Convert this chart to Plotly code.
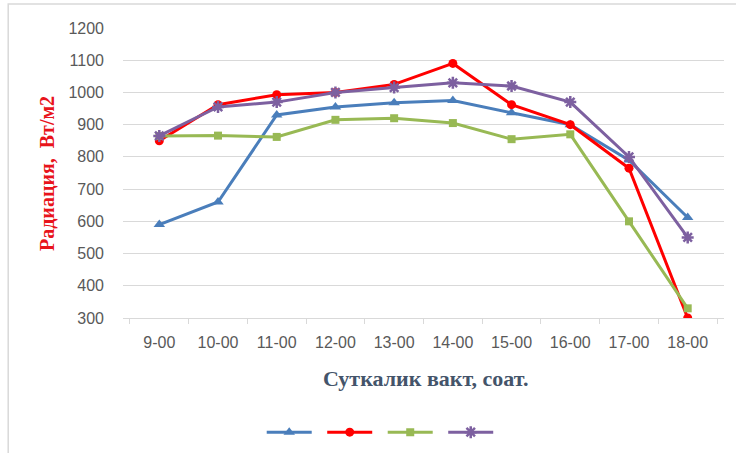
import plotly.graph_objects as go

hours = ["9-00", "10-00", "11-00", "12-00", "13-00", "14-00", "15-00", "16-00", "17-00", "18-00"]
series_1 = [590, 660, 930, 955, 968, 975, 937, 900, 790, 612]
series_2 = [850, 962, 993, 1000, 1025, 1090, 962, 900, 765, 300]
series_3 = [865, 866, 862, 915, 920, 905, 855, 870, 600, 330]
series_4 = [865, 955, 970, 1000, 1015, 1030, 1020, 970, 800, 550]
y_ticks = [300, 400, 500, 600, 700, 800, 900, 1000, 1100, 1200]

styles = [
    (series_1, "#4A7EBB", "triangle-up", 10),
    (series_2, "#FF0000", "circle", 9),
    (series_3, "#98B954", "square", 8),
    (series_4, "#7D60A0", "asterisk-open", 10),
]

fig = go.Figure()
for values, color, symbol, size in styles:
    marker = dict(symbol=symbol, size=size, color=color)
    if symbol.endswith("open"):
        marker["line"] = dict(color=color, width=2.5)
    fig.add_trace(go.Scatter(
        x=hours, y=values, mode="lines+markers", name=" ",
        line=dict(color=color, width=3), marker=marker,
    ))

fig.update_layout(
    width=736, height=453,
    margin=dict(l=123, r=12, t=28, b=135, autoexpand=False),
    paper_bgcolor="white", plot_bgcolor="white",
    font=dict(family="Liberation Sans", color="#595959", size=16),
    showlegend=True,
    legend=dict(orientation="h", xref="container", yref="container",
                x=0.52, xanchor="center", y=0.046, yanchor="middle",
                entrywidth=0.5, entrywidthmode="pixels", itemwidth=45,
                font=dict(size=2)),
    xaxis=dict(type="category", showgrid=False, showline=True, linecolor="#D9D9D9",
               ticks="outside", tickson="boundaries", ticklen=5, tickcolor="#D9D9D9",
               ticklabelstandoff=10, automargin=False,
               tickfont=dict(size=16, color="#595959"), fixedrange=True),
    yaxis=dict(range=[300, 1200], tickvals=y_ticks, showgrid=True, gridcolor="#D9D9D9",
               gridwidth=1, zeroline=False, showline=False, ticks="",
               ticklabelstandoff=18, automargin=False,
               tickfont=dict(size=16, color="#595959"), fixedrange=True),
    shapes=[dict(type="rect", xref="paper", yref="paper", x0=-0.191, x1=1.2, y0=-0.8, y1=1.083,
                 line=dict(color="#D9D9D9", width=1.5), fillcolor="rgba(0,0,0,0)")],
    annotations=[
        dict(text="Радиация,  Вт/м2", xref="paper", yref="paper", x=-0.1265, y=0.5,
             xanchor="center", yanchor="middle", textangle=-90, showarrow=False,
             font=dict(family="Liberation Serif", size=20, color="#E8141B", weight="bold")),
        dict(text="Суткалик вакт, соат.", xref="paper", yref="paper", x=0.5025, y=-0.207,
             xanchor="center", yanchor="middle", showarrow=False,
             font=dict(family="Liberation Serif", size=22, color="#44546A", weight="bold")),
    ],
)

fig.write_html("out.html")
